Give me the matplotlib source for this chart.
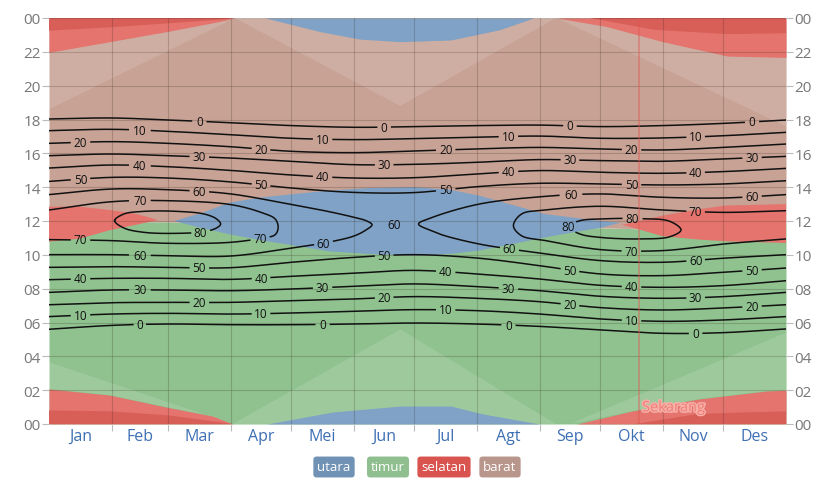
import numpy as np
import matplotlib
matplotlib.use("Agg")
import matplotlib.pyplot as plt
import matplotlib.patheffects as pe

plt.rcParams['font.family'] = ['Open Sans', 'DejaVu Sans']

# ---- data ---------------------------------------------------------------
months = ['Jan', 'Feb', 'Mar', 'Apr', 'Mei', 'Jun', 'Jul', 'Agt', 'Sep', 'Okt', 'Nov', 'Des']
days = [0, 31, 59, 90, 120, 151, 181, 212, 243, 273, 304, 334, 365]  # month starts
hour_ticks = list(range(0, 25, 2))
hour_labels = ['%02d' % (h % 24) for h in hour_ticks]

# sun elevation contours (hour of day at each month start)
levels = [0, 10, 20, 30, 40, 50]
pm_hours = [
    [18.03, 18.09, 17.97, 17.81, 17.64, 17.54, 17.58, 17.64, 17.67, 17.58, 17.64, 17.77, 17.97],
    [17.34, 17.42, 17.30, 17.10, 16.89, 16.81, 16.87, 16.95, 17.02, 16.89, 16.91, 17.04, 17.24],
    [16.59, 16.69, 16.59, 16.39, 16.12, 16.04, 16.14, 16.26, 16.35, 16.26, 16.20, 16.35, 16.55],
    [15.86, 15.96, 15.86, 15.72, 15.53, 15.33, 15.35, 15.47, 15.63, 15.57, 15.53, 15.67, 15.82],
    [15.13, 15.31, 15.21, 14.99, 14.72, 14.54, 14.56, 14.78, 14.98, 14.88, 14.82, 14.92, 15.11],
    [14.34, 14.58, 14.54, 14.31, 13.95, 13.69, 13.68, 14.03, 14.23, 14.19, 14.13, 14.19, 14.38],
]
am_hours = [
    [5.60, 5.83, 5.91, 5.87, 5.87, 5.91, 5.97, 5.91, 5.77, 5.56, 5.36, 5.40, 5.62],
    [6.35, 6.50, 6.54, 6.50, 6.56, 6.66, 6.76, 6.70, 6.50, 6.21, 6.07, 6.15, 6.35],
    [7.05, 7.17, 7.19, 7.19, 7.29, 7.39, 7.53, 7.43, 7.23, 6.88, 6.74, 6.86, 7.05],
    [7.78, 7.92, 7.92, 7.88, 7.98, 8.14, 8.28, 8.12, 7.88, 7.55, 7.43, 7.53, 7.78],
    [8.53, 8.61, 8.61, 8.55, 8.73, 8.91, 9.08, 8.87, 8.57, 8.20, 8.08, 8.18, 8.47],
    [9.26, 9.30, 9.26, 9.24, 9.56, 9.85, 10.01, 9.81, 9.36, 8.87, 8.77, 8.97, 9.22],
]

# closed / turning contours near noon: (days, hours) for afternoon and morning branch
c60a_pm = ([0, 31, 59, 90, 120, 138, 151, 157, 160], [13.56, 13.89, 13.85, 13.60, 12.97, 12.57, 12.22, 12.02, 11.78])
c60a_am = ([0, 31, 59, 90, 120, 138, 151, 157, 160], [10.01, 10.01, 9.95, 9.93, 10.40, 10.74, 11.11, 11.47, 11.78])
c60b_pm = ([183, 190, 213, 244, 273, 304, 334, 365], [11.82, 12.22, 13.00, 13.44, 13.60, 13.40, 13.36, 13.56])
c60b_am = ([183, 190, 196, 213, 228, 244, 273, 304, 334, 365], [11.82, 11.40, 11.13, 10.64, 10.35, 10.09, 9.66, 9.56, 9.80, 10.01])
c70a_pm = ([0, 31, 59, 90, 105, 112, 113.5], [12.65, 13.14, 13.20, 12.97, 12.51, 12.12, 11.63])
c70a_am = ([0, 31, 59, 90, 105, 112, 113.5], [10.90, 10.84, 10.68, 10.74, 10.98, 11.19, 11.63])
c70b_pm = ([230, 234, 246, 273, 304, 334, 365], [11.72, 12.41, 12.65, 12.87, 12.65, 12.51, 12.61])
c70b_am = ([230, 234, 246, 273, 304, 334, 365], [11.72, 11.13, 10.84, 10.31, 10.25, 10.64, 10.94])
c80a_pm = ([32.5, 37, 47, 63.5, 77, 83, 85], [12.02, 12.41, 12.57, 12.57, 12.41, 12.12, 11.82])
c80a_am = ([32.5, 37, 47, 63.5, 77, 83, 85], [12.02, 11.59, 11.33, 11.27, 11.37, 11.59, 11.82])
c80b_pm = ([257, 263, 273, 293, 307.5, 313], [11.67, 12.02, 12.12, 12.14, 11.98, 11.47])
c80b_am = ([257, 263, 273, 293, 307.5, 313], [11.67, 11.23, 11.03, 10.94, 11.07, 11.47])

# solar noon (east / west split)
noon_hours = [11.80, 11.95, 11.95, 11.85, 11.75, 11.75, 11.80, 11.80, 11.75, 11.60, 11.50, 11.60, 11.80]

# direction regions around noon
south_l_days = [0, 15, 30, 42, 50, 54]
south_l_top = [12.85, 12.85, 12.65, 12.45, 12.20, 12.05]
south_l_bot = [10.78, 10.95, 11.45, 11.75, 11.95, 12.05]
north_days = [62, 75, 90, 105.5, 122, 139, 159, 181, 198.6, 213, 228, 245.6, 263, 273.4, 283]
north_top = [12.00, 12.45, 13.10, 13.40, 13.60, 13.80, 13.95, 14.00, 13.85, 13.50, 13.00, 12.41, 12.15, 12.00, 11.90]
north_bot = [12.00, 11.60, 11.20, 10.85, 10.54, 10.20, 10.05, 9.95, 10.05, 10.25, 10.60, 11.03, 11.40, 11.60, 11.90]
south_r_days = [284, 304, 322, 335, 365]
south_r_top = [11.78, 12.32, 12.70, 12.91, 13.00]
south_r_bot = [11.78, 11.10, 10.90, 10.80, 10.70]

# direction regions at night (top = before midnight, bottom = after midnight)
night_s_top_l = ([0, 30, 58.4, 84.7, 92], [21.97, 22.60, 23.20, 23.80, 24.0])
night_n_top = ([107, 114, 134, 154, 174, 199, 223, 240], [24.0, 23.80, 23.20, 22.75, 22.60, 22.70, 23.30, 24.0])
night_s_top_r = ([251.6, 276, 304, 336, 365], [24.0, 23.50, 22.60, 21.75, 21.67])
night_s_bot_l = ([0, 30, 58, 81, 91], [2.07, 1.71, 1.00, 0.47, 0.0])
night_n_bot = ([108, 140.6, 174, 199, 215, 243], [0.0, 0.71, 1.06, 1.06, 0.59, 0.0])
night_s_bot_r = ([261.5, 289, 322, 355.6, 365], [0.0, 0.77, 1.48, 1.95, 2.00])

# finer compass sectors: lighter wedges (days, hours)
light_west_l = ([0, 30, 58.4, 84.7, 92, 0], [21.97, 22.60, 23.20, 23.80, 24.0, 18.6])
light_west_r = ([251.6, 276, 304, 336, 365, 365], [24.0, 23.50, 22.60, 21.75, 21.67, 17.6])
light_west_c = ([92, 174, 251], [24.0, 18.8, 24.0])
light_east_l = ([0, 30, 58, 81, 91, 0], [2.07, 1.71, 1.00, 0.47, 0.0, 3.66])
light_east_r = ([258, 289, 322, 355.6, 365, 365], [0.0, 0.77, 1.48, 1.95, 2.00, 5.4])
light_east_c = ([91, 174, 251], [0.0, 5.6, 0.0])
# darker south sectors close to midnight
dark_south = [
    ([0, 0, 30, 85, 92], [24.0, 23.25, 23.45, 23.90, 24.0]),
    ([0, 0, 30, 60, 85, 91], [0.0, 0.80, 0.75, 0.50, 0.10, 0.0]),
    ([268, 300, 336, 365, 365], [24.0, 23.30, 23.05, 23.10, 24.0]),
    ([290, 322, 350, 365, 365], [0.0, 0.60, 0.70, 0.75, 0.0]),
]

now_day = 292.2
legend_names = ['utara', 'timur', 'selatan', 'barat']

# ---- styling ------------------------------------------------------------
c_north = '#7fa2c6'
c_east = '#8fc28f'
c_south = '#e4746d'
c_south_dark = '#d85e58'
c_west = '#c7a295'
legend_colors = ['#6f92b5', '#8fbe8f', '#d9534f', '#b9968b']

W, H = 823, 481
fig = plt.figure(figsize=(W / 100, H / 100), dpi=100)
ax = fig.add_axes([49 / W, 56 / H, 737 / W, 406 / H])
ax.set_xlim(0, 365)
ax.set_ylim(0, 24)

d = np.array(days, dtype=float)
ax.fill_between(d, 0, noon_hours, color=c_east, lw=0, zorder=0)
ax.fill_between(d, noon_hours, 24, color=c_west, lw=0, zorder=0)

for xs, ys in [light_west_l, light_west_r, light_west_c, light_east_l, light_east_r, light_east_c]:
    ax.fill(xs, ys, color='white', alpha=0.13, lw=0, zorder=0.5)


def fill_band(xs, top, bot, color):
    ax.fill(list(xs) + list(xs)[::-1], list(top) + list(bot)[::-1], color=color, lw=0, zorder=1)


fill_band(south_l_days, south_l_top, south_l_bot, c_south)
fill_band(north_days, north_top, north_bot, c_north)
fill_band(south_r_days, south_r_top, south_r_bot, c_south)
for (xs, ys), col in [(night_s_top_l, c_south), (night_n_top, c_north), (night_s_top_r, c_south)]:
    ax.fill_between(xs, ys, 24, color=col, lw=0, zorder=1)
for (xs, ys), col in [(night_s_bot_l, c_south), (night_n_bot, c_north), (night_s_bot_r, c_south)]:
    ax.fill_between(xs, 0, ys, color=col, lw=0, zorder=1)
for xs, ys in dark_south:
    ax.fill(xs, ys, color=c_south_dark, lw=0, zorder=1.2)

# grid
for h in hour_ticks:
    ax.axhline(h, color='#3a2a20', alpha=0.22, lw=0.8, zorder=2)
for x in days[1:-1]:
    ax.axvline(x, color='#3a2a20', alpha=0.22, lw=0.8, zorder=2)


# ---- contour lines drawn with gaps for the labels ----------------------
def smooth(P, n=24, closed=False):
    # centripetal Catmull-Rom through display points
    if closed:
        Q = np.vstack([P[-1], P, P[0], P[1]])
    else:
        Q = np.vstack([2 * P[0] - P[1], P, 2 * P[-1] - P[-2]])
    out = []
    for i in range(1, len(Q) - 2):
        p0, p1, p2, p3 = Q[i - 1], Q[i], Q[i + 1], Q[i + 2]
        t0 = 0.0
        t1 = t0 + max(np.linalg.norm(p1 - p0), 1e-6) ** 0.5
        t2 = t1 + max(np.linalg.norm(p2 - p1), 1e-6) ** 0.5
        t3 = t2 + max(np.linalg.norm(p3 - p2), 1e-6) ** 0.5
        t = np.linspace(t1, t2, n, endpoint=False)[:, None]
        a1 = (t1 - t) / (t1 - t0) * p0 + (t - t0) / (t1 - t0) * p1
        a2 = (t2 - t) / (t2 - t1) * p1 + (t - t1) / (t2 - t1) * p2
        a3 = (t3 - t) / (t3 - t2) * p2 + (t - t2) / (t3 - t2) * p3
        b1 = (t2 - t) / (t2 - t0) * a1 + (t - t0) / (t2 - t0) * a2
        b2 = (t3 - t) / (t3 - t1) * a2 + (t - t1) / (t3 - t1) * a3
        out.append((t2 - t) / (t2 - t1) * b1 + (t - t1) / (t2 - t1) * b2)
    out.append(Q[-2][None, :] if not closed else Q[1][None, :])
    return np.vstack(out)


def draw_contour(xs, ys, level, labels, closed=False):
    pts = ax.transData.transform(np.column_stack([xs, ys]))
    dense = smooth(pts, closed=closed)
    keep = np.ones(len(dense), bool)
    r = 6.5 if level < 10 else 10
    for lx, ly in labels:
        target = ax.transData.transform((lx, ly))
        k = np.argmin(np.hypot(*(dense - target).T))
        keep &= np.hypot(*(dense - dense[k]).T) > r
        tx, ty = ax.transData.inverted().transform(dense[k])
        ax.text(tx, ty, str(level), fontsize=8.5, ha='center', va='center', color='#111', zorder=5)
    data = ax.transData.inverted().transform(dense)
    data[~keep] = np.nan
    ax.plot(data[:, 0], data[:, 1], color='#111', lw=1.1, zorder=4)


colA = [15, 105.5, 197, 289]
colB = [45, 136, 227, 320]
colC = [75, 166, 258, 348]
pm_cols = [colC, colB, colA, colC, colB, colA]
am_cols = [colB, colA, colC, colB, colA, colC]
for i, lev in enumerate(levels):
    draw_contour(days, pm_hours[i], lev, [(x, np.interp(x, days, pm_hours[i])) for x in pm_cols[i]])
    draw_contour(days, am_hours[i], lev, [(x, np.interp(x, days, am_hours[i])) for x in am_cols[i]])


def draw_loop(pm, am, level, pm_lab, am_lab, closed=False, vertex_first=False):
    if vertex_first:
        xs = list(pm[0])[::-1] + list(am[0])[1:]
        ys = list(pm[1])[::-1] + list(am[1])[1:]
    else:
        xs = list(pm[0]) + list(am[0])[::-1][1:]
        ys = list(pm[1]) + list(am[1])[::-1][1:]
    if closed:
        xs, ys = xs[:-1], ys[:-1]
    labs = [(x, np.interp(x, pm[0], pm[1])) for x in pm_lab]
    labs += [(x, np.interp(x, am[0], am[1])) for x in am_lab]
    draw_contour(xs, ys, level, labs, closed=closed)


draw_loop(c60a_pm, c60a_am, 60, [75], [45, 136])
draw_loop(c60b_pm, c60b_am, 60, [258, 348], [228, 320], vertex_first=True)
draw_loop(c70a_pm, c70a_am, 70, [45], [15, 104.5])
draw_loop(c70b_pm, c70b_am, 70, [320], [289], vertex_first=True)
draw_loop(c80a_pm, c80a_am, 80, [], [75], closed=True)
draw_loop(c80b_pm, c80b_am, 80, [289], [257], closed=True)
ax.text(171, 11.8, '60', fontsize=8.5, ha='center', va='center', color='#111', zorder=5)

# ---- now marker ----------------------------------------------------------
ax.axvline(now_day, color='#e05a55', alpha=0.5, lw=1.2, zorder=5)
ax.text(now_day + 1.5, 0.95, 'Sekarang', color='#f07f78', fontsize=10.5,
        ha='left', va='center', zorder=6,
        path_effects=[pe.withStroke(linewidth=2, foreground='#f6b0a8')])

# ---- axes ----------------------------------------------------------------
for s in ax.spines.values():
    s.set_visible(False)
ax.set_yticks(hour_ticks)
ax.set_yticklabels(hour_labels)
ax.tick_params(axis='y', left=True, right=True, labelleft=True, labelright=True,
               length=5, width=0.8, color='#bbbbbb', labelcolor='#777777', labelsize=11, pad=1)
ax.set_xticks(days[1:-1])
ax.set_xticklabels([])
ax.tick_params(axis='x', which='major', length=5, width=0.8, color='#bbbbbb')
mid = [days[i] + (days[i + 1] - days[i]) / 2 for i in range(12)]
ax.set_xticks(mid, minor=True)
ax.set_xticklabels(months, minor=True)
ax.tick_params(axis='x', which='minor', length=0, labelsize=11.5, labelcolor='#3d6fb4', pad=3)

# legend badges
xc = [334, 388, 444, 500]
for name, col, x in zip(legend_names, legend_colors, xc):
    fig.text(x / W, 1 - 468 / H, name, color='white', fontsize=9.5, ha='center', va='center',
             bbox=dict(boxstyle='round,pad=0.3,rounding_size=0.25', fc=col, ec='none'))

fig.savefig('out.png', dpi=100)
